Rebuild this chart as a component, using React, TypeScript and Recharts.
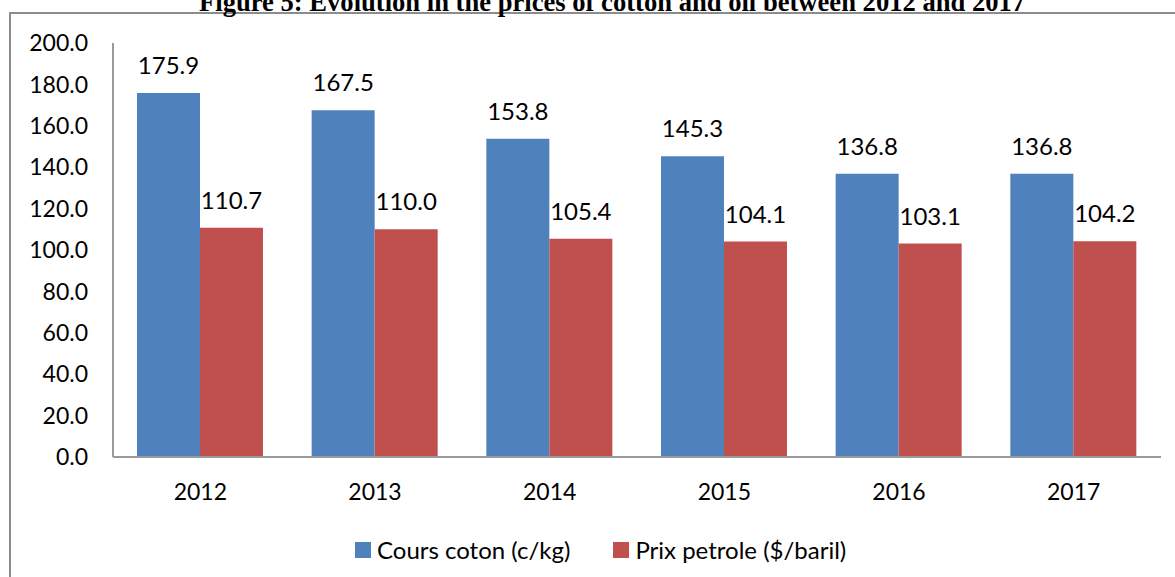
import { BarChart, Bar, XAxis, YAxis, LabelList } from "recharts";

const years = ["2012", "2013", "2014", "2015", "2016", "2017"];
const coton = [175.9, 167.5, 153.8, 145.3, 136.8, 136.8];
const petrole = [110.7, 110.0, 105.4, 104.1, 103.1, 104.2];
const yTicks = [0, 20, 40, 60, 80, 100, 120, 140, 160, 180, 200];

const data = years.map((year, i) => ({ year, coton: coton[i], petrole: petrole[i] }));

const FONT = "Lato, 'Open Sans', sans-serif";
const BLUE = "#4F81BD";
const RED = "#C0504D";

const legendItems = [
  { label: "Cours coton (c/kg)", color: BLUE },
  { label: "Prix petrole ($/baril)", color: RED },
];

function ChartLegend() {
  return (
    <div
      style={{
        position: "absolute",
        left: 355,
        top: 535,
        display: "flex",
        gap: 43,
        fontFamily: FONT,
        fontSize: 24,
        lineHeight: "30px",
        color: "#000",
      }}
    >
      {legendItems.map((it) => (
        <div key={it.label} style={{ display: "flex", alignItems: "center", gap: 6 }}>
          <span style={{ width: 16, height: 16, background: it.color, display: "inline-block" }} />
          <span>{it.label}</span>
        </div>
      ))}
    </div>
  );
}

export default function App() {
  return (
    <div
      style={{
        position: "fixed",
        left: 0,
        top: 0,
        width: 1175,
        height: 577,
        overflow: "hidden",
        background: "#fff",
      }}
    >
      <div
        style={{
          position: "absolute",
          left: 9,
          top: 12,
          width: 1200,
          height: 600,
          border: "2px solid #8c8c8c",
        }}
      />
      <div
        style={{
          position: "absolute",
          top: -11,
          left: 199,
          fontFamily: "'Liberation Serif', serif",
          fontWeight: "bold",
          fontSize: 26.6,
          lineHeight: "26px",
          whiteSpace: "nowrap",
        }}
      >
        Figure 5: Evolution in the prices of cotton and oil between 2012 and 2017
      </div>
      <div style={{ position: "absolute", left: 0, top: 0 }}>
        <BarChart
          width={1175}
          height={577}
          data={data}
          margin={{ top: 43, right: 14, bottom: 90, left: 0 }}
          barCategoryGap={24}
          barGap={0}
        >
          <XAxis
            dataKey="year"
            height={30}
            axisLine={{ stroke: "#9a9a9a", strokeWidth: 2 }}
            tickLine={false}
            tickSize={0}
            tickMargin={27}
            tick={{ fill: "#000", fontSize: 23, fontFamily: FONT }}
          />
          <YAxis
            width={113}
            domain={[0, 200]}
            ticks={yTicks}
            tickFormatter={(v: number) => v.toFixed(1)}
            axisLine={{ stroke: "#9a9a9a", strokeWidth: 2 }}
            tickLine={false}
            tickSize={0}
            tickMargin={25}
            tick={{ fill: "#000", fontSize: 23, fontFamily: FONT }}
          />
          <Bar dataKey="coton" name="Cours coton (c/kg)" fill={BLUE} isAnimationActive={false}>
            <LabelList
              dataKey="coton"
              position="top"
              offset={19}
              formatter={(v: number) => v.toFixed(1)}
              style={{ fill: "#000", fontSize: 24, fontFamily: FONT }}
            />
          </Bar>
          <Bar dataKey="petrole" name="Prix petrole ($/baril)" fill={RED} isAnimationActive={false}>
            <LabelList
              dataKey="petrole"
              position="top"
              offset={19}
              formatter={(v: number) => v.toFixed(1)}
              style={{ fill: "#000", fontSize: 24, fontFamily: FONT }}
            />
          </Bar>
        </BarChart>
      </div>
      <ChartLegend />
    </div>
  );
}
